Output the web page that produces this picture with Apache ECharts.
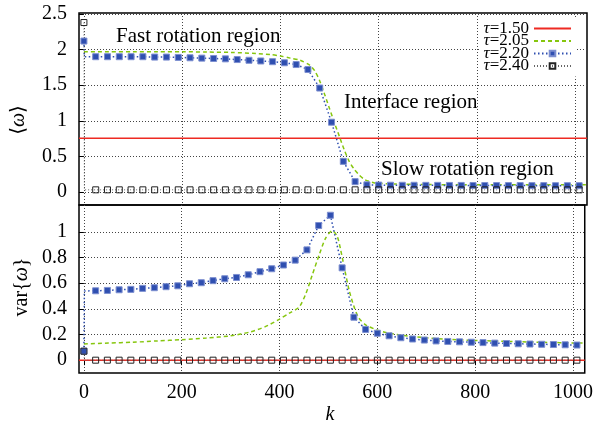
<!DOCTYPE html>
<html>
<head>
<meta charset="utf-8">
<script src="https://cdn.jsdelivr.net/npm/echarts@6/dist/echarts.min.js"></script>
<style>html,body{margin:0;padding:0;background:#fff}#c{width:596px;height:428px}</style>
</head>
<body>
<div id="c"></div>
<script>
// ---- data ----
const seriesNames = ['τ=1.50', 'τ=2.05', 'τ=2.20', 'τ=2.40'];
const xTicks = [0, 200, 400, 600, 800, 1000];
const yTopTicks = [0, 0.5, 1, 1.5, 2, 2.5];
const yBotTicks = [0, 0.2, 0.4, 0.6, 0.8, 1];

// sampled k (markers)
const kMarks = [0, 24, 48, 72, 96, 120, 144, 168, 192, 216, 240, 264, 288, 312, 336, 360, 384, 408, 432, 456, 480, 504, 528, 552, 576, 600, 624, 648, 672, 696, 720, 744, 768, 792, 816, 840, 864, 888, 912, 936, 960, 984, 1008];
// value right after k = 0 (the curves jump almost vertically at k = 0 -> 1)
const kJump = 1;
const blueMeanJump = 1.90, blueVarJump = 0.54, blackMeanJump = 0.03, blackVarJump = 0;

// tau = 1.50 (constant)
const redK = [-10, 1024];
const redMean = [0.755, 0.755];
const redVar = [0, 0];

// tau = 2.05
const greenMeanK = [0, 50, 100, 150, 200, 250, 300, 350, 380, 400, 420, 440, 460, 470, 480, 490, 500, 510, 520, 530, 540, 550, 560, 570, 580, 590, 600, 650, 700, 800, 900, 1024];
const greenMean = [1.97, 1.97, 1.97, 1.97, 1.97, 1.965, 1.96, 1.945, 1.93, 1.91, 1.88, 1.85, 1.78, 1.70, 1.56, 1.37, 1.17, 0.97, 0.78, 0.59, 0.43, 0.32, 0.24, 0.18, 0.15, 0.13, 0.12, 0.11, 0.105, 0.10, 0.10, 0.10];
const greenVarK = [0, 50, 100, 150, 200, 250, 300, 340, 370, 400, 420, 440, 454, 467, 481, 494, 508, 518, 525, 532, 542, 552, 562, 576, 603, 640, 670, 738, 806, 928, 1024];
const greenVar = [0.127, 0.133, 0.14, 0.15, 0.16, 0.172, 0.19, 0.22, 0.26, 0.32, 0.367, 0.414, 0.52, 0.666, 0.82, 0.95, 1.01, 0.965, 0.86, 0.73, 0.55, 0.42, 0.33, 0.276, 0.23, 0.20, 0.185, 0.164, 0.153, 0.14, 0.133];

// tau = 2.20 (on kMarks)
const blueMean = [2.12, 1.90, 1.90, 1.90, 1.90, 1.90, 1.895, 1.895, 1.89, 1.885, 1.88, 1.875, 1.87, 1.86, 1.85, 1.84, 1.83, 1.815, 1.79, 1.72, 1.46, 0.98, 0.43, 0.145, 0.10, 0.097, 0.095, 0.094, 0.094, 0.093, 0.093, 0.092, 0.092, 0.091, 0.091, 0.09, 0.09, 0.09, 0.089, 0.089, 0.088, 0.088, 0.088];
const blueVar = [0.07, 0.541, 0.544, 0.549, 0.552, 0.56, 0.565, 0.573, 0.58, 0.596, 0.604, 0.62, 0.635, 0.645, 0.666, 0.69, 0.713, 0.742, 0.78, 0.86, 1.05, 1.13, 0.72, 0.335, 0.24, 0.21, 0.19, 0.175, 0.165, 0.157, 0.15, 0.146, 0.143, 0.14, 0.137, 0.133, 0.13, 0.128, 0.126, 0.124, 0.122, 0.12, 0.118];

// tau = 2.40 (on kMarks)
const blackMean = [2.38, 0.03, 0.03, 0.03, 0.03, 0.03, 0.03, 0.03, 0.03, 0.03, 0.03, 0.03, 0.03, 0.03, 0.03, 0.03, 0.03, 0.03, 0.03, 0.03, 0.03, 0.03, 0.03, 0.03, 0.03, 0.03, 0.03, 0.03, 0.03, 0.03, 0.03, 0.03, 0.03, 0.03, 0.03, 0.03, 0.03, 0.03, 0.03, 0.03, 0.03, 0.03, 0.03];
const blackVar = [0.07, 0, 0, 0, 0, 0, 0, 0, 0, 0, 0, 0, 0, 0, 0, 0, 0, 0, 0, 0, 0, 0, 0, 0, 0, 0, 0, 0, 0, 0, 0, 0, 0, 0, 0, 0, 0, 0, 0, 0, 0, 0, 0];

// ---- styles ----
const FONT = "'Liberation Serif', 'DejaVu Serif', serif";
const RED = '#ee2a22', GREEN = '#86c60e', BLUE = '#2f4fb0', BLACK = '#222';
const zip = (xs, ys) => xs.map((x, i) => [x, ys[i]]);
function withJump(ys, jumpVal) {
  const pts = zip(kMarks, ys);
  pts.splice(1, 0, { value: [kJump, jumpVal], symbol: 'none' });
  return pts;
}

function xAxis(idx) {
  return {
    type: 'value', gridIndex: idx, min: -10, max: 1024,
    axisLine: { show: false },
    axisTick: { show: idx === 1, customValues: xTicks, inside: false, length: 5, lineStyle: { color: '#000' } },
    axisLabel: { show: idx === 1, customValues: xTicks, margin: 10, fontSize: 20, color: '#000', fontFamily: FONT, formatter: v => String(v) },
    splitLine: { show: true, lineStyle: { type: [1, 2], color: '#444', width: 1 } }
  };
}
function yAxis(idx, min, max, ticks) {
  return {
    type: 'value', gridIndex: idx, min: min, max: max,
    axisLine: { show: false },
    axisTick: { show: true, customValues: ticks, inside: false, length: 5, lineStyle: { color: '#000' } },
    axisLabel: { customValues: ticks, margin: 12, fontSize: 20, color: '#000', fontFamily: FONT, formatter: v => String(v) },
    splitLine: { show: true, lineStyle: { type: [1, 2], color: '#444', width: 1 } }
  };
}
function seriesSet(g, red, gK, g2, blue, blueJ, black, blackJ) {
  return [
    { name: seriesNames[0], type: 'line', xAxisIndex: g, yAxisIndex: g, data: zip(redK, red), symbol: 'none', lineStyle: { color: RED, width: 1.5 }, itemStyle: { color: RED } },
    { name: seriesNames[1], type: 'line', xAxisIndex: g, yAxisIndex: g, data: zip(gK, g2), symbol: 'none', smooth: 0.25, lineStyle: { color: GREEN, width: 1.5, type: [4, 3] }, itemStyle: { color: GREEN } },
    { name: seriesNames[2], type: 'line', xAxisIndex: g, yAxisIndex: g, data: withJump(blue, blueJ), symbol: 'rect', symbolSize: 6, showAllSymbol: true, lineStyle: { color: BLUE, width: 1.5, type: [1.5, 2.5] }, itemStyle: { color: BLUE, borderColor: '#7d8fd0', borderWidth: 1 } },
    { name: seriesNames[3], type: 'line', xAxisIndex: g, yAxisIndex: g, data: withJump(black, blackJ), symbol: 'rect', symbolSize: 6, showAllSymbol: true, lineStyle: { color: '#666', width: 1, type: [1, 2] }, itemStyle: { color: 'rgba(0,0,0,0)', borderColor: BLACK, borderWidth: 1 } }
  ];
}

const noSym = { color: 'rgba(0,0,0,0)', borderWidth: 0, opacity: 0 };
const chart = echarts.init(document.getElementById('c'), null, { renderer: 'canvas' });
chart.setOption({
  animation: false,
  backgroundColor: '#fff',
  grid: [
    { left: 79, right: 9, top: 13, height: 192, show: true, borderColor: '#000', borderWidth: 1.5, backgroundColor: 'transparent' },
    { left: 79, right: 9, top: 205, height: 168, show: true, borderColor: '#000', borderWidth: 1.5, backgroundColor: 'transparent' }
  ],
  xAxis: [xAxis(0), xAxis(1)],
  yAxis: [yAxis(0, -0.183, 2.514, yTopTicks), yAxis(1, -0.1, 1.21, yBotTicks)],
  legend: {
    data: [
      { name: seriesNames[0], itemStyle: noSym },
      { name: seriesNames[1], itemStyle: noSym },
      { name: seriesNames[2] },
      { name: seriesNames[3] }
    ],
    orient: 'vertical', right: 20, top: 18,
    align: 'right', itemWidth: 37, itemHeight: 7, itemGap: -4.5,
    backgroundColor: '#fff', padding: [2, 4, 2, 4],
    formatter: n => '{i|τ}{n|' + n.slice(1) + '}',
    textStyle: {
      color: '#000', fontFamily: FONT, fontSize: 17, lineHeight: 13,
      rich: { i: { fontStyle: 'italic', fontFamily: FONT, fontSize: 17, lineHeight: 13 }, n: { fontFamily: FONT, fontSize: 17, lineHeight: 13 } }
    }
  },
  graphic: [
    { type: 'text', x: 116, y: 36, style: { text: 'Fast rotation region', font: '21px ' + FONT, fill: '#000', textAlign: 'left', textVerticalAlign: 'middle' } },
    { type: 'text', x: 344, y: 102, style: { text: 'Interface region', font: '21px ' + FONT, fill: '#000', textAlign: 'left', textVerticalAlign: 'middle' } },
    { type: 'text', x: 381, y: 169, style: { text: 'Slow rotation region', font: '21px ' + FONT, fill: '#000', textAlign: 'left', textVerticalAlign: 'middle' } },
    { type: 'text', x: 19, y: 120, rotation: Math.PI / 2, style: { text: '⟨{b|ω}⟩', font: '20px ' + FONT, fill: '#000', textAlign: 'center', textVerticalAlign: 'middle', rich: { b: { fontStyle: 'italic', fontSize: 20, fontFamily: FONT } } } },
    { type: 'text', x: 22, y: 287, rotation: Math.PI / 2, style: { text: 'var{{b|ω}}', font: '20px ' + FONT, fill: '#000', textAlign: 'center', textVerticalAlign: 'middle', rich: { b: { fontStyle: 'italic', fontSize: 20, fontFamily: FONT } } } },
    { type: 'text', x: 330, y: 415, style: { text: 'k', font: 'italic 20px ' + FONT, fill: '#000', textAlign: 'center', textVerticalAlign: 'middle' } }
  ],
  series: [].concat(
    seriesSet(0, redMean, greenMeanK, greenMean, blueMean, blueMeanJump, blackMean, blackMeanJump),
    seriesSet(1, redVar, greenVarK, greenVar, blueVar, blueVarJump, blackVar, blackVarJump)
  )
});
</script>
</body>
</html>
